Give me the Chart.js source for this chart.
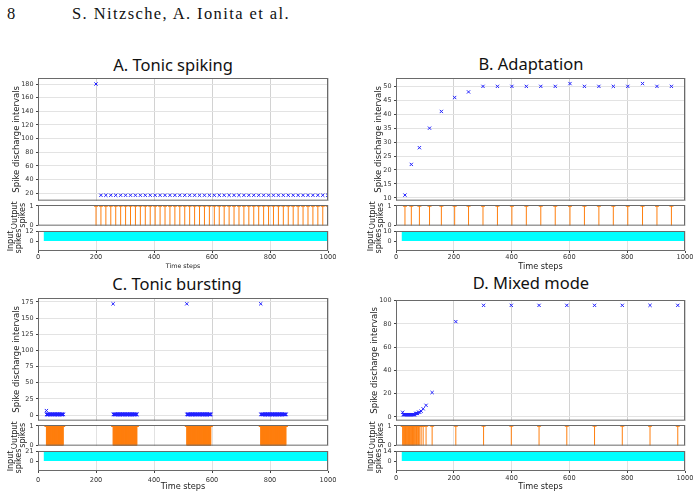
<!DOCTYPE html>
<html><head><meta charset="utf-8">
<script src="https://cdn.jsdelivr.net/npm/chart.js@4/dist/chart.umd.min.js"></script>
<style>
html,body{margin:0;padding:0;background:#fff;}
body{width:699px;height:498px;overflow:hidden;position:relative;}
.ttl{position:absolute;white-space:nowrap;transform:translate(-50%,-50%);font-family:'Noto Sans';font-size:16.5px;color:#111;line-height:1.2;}
.hdr{position:absolute;white-space:nowrap;font-family:'Liberation Serif';font-size:16.5px;line-height:1;color:#111;}
</style></head><body>
<div class="hdr" style="left:7px;top:6px;">8</div>
<div class="hdr" style="left:72px;top:6px;letter-spacing:1.4px;">S. Nitzsche, A. Ionita et al.</div>
<div class="ttl" style="left:173px;top:65px;">A. Tonic spiking</div>
<div class="ttl" style="left:531px;top:64px;">B. Adaptation</div>
<div class="ttl" style="left:177px;top:284px;">C. Tonic bursting</div>
<div class="ttl" style="left:531px;top:283px;">D. Mixed mode</div>
<script>
// ---------- data ----------
const timeTicks = [0, 200, 400, 600, 800, 1000];
const outTicks = [0, 1];
const inputTimes = [0, 19, 20, 1000];

// A. Tonic spiking
const prevSpikeA = 20;
const spikesA = [200,217,234,251,268,285,302,319,336,353,370,387,404,421,438,455,472,489,506,523,540,557,574,591,608,625,642,659,676,693,710,727,744,761,778,795,812,829,846,863,880,897,914,931,948,965,982,999];
const isiTicksA = [20,40,60,80,100,120,140,160,180];
const inputA = [0, 0, 12, 12];
const inTicksA = [0, 12];

// B. Adaptation
const prevSpikeB = 20;
const spikesB = [31,53,81,116,157,203,251,301,351,401,451,501,551,602,652,702,752,802,853,903,953];
const isiTicksB = [10,15,20,25,30,35,40,45,50];
const inputB = [0, 0, 10, 10];
const inTicksB = [0, 10];

// C. Tonic bursting  (bursts: [first spike, last spike], one spike per step inside a burst)
const prevSpikeC = 22;
const burstsC = [[29,87],[259,341],[513,596],[768,855]];
const burstStepC = 1;
const isiTicksC = [0,25,50,75,100,125,150,175];
const inputC = [0, 0, 21, 21];
const inTicksC = [0, 21];

// D. Mixed mode
const prevSpikeD = 19;
const spikesD = [23,25,27,29,31,33,35,37,39,41,43,45,47,49,51,53,55,57,59,61,63,65,68,71,74,78,82,87,94,104,125,207,303,399,495,591,687,783,879,975];
const isiTicksD = [0,20,40,60,80,100];
const inputD = [0, 0, 14, 14];
const inTicksD = [0, 14];

// ---------- helpers ----------
function burstSpikes(bursts, step){ const s=[]; bursts.forEach(([a,b])=>{ for(let t=a;t<=b;t+=step) s.push(t); }); return s; }
function isiOf(prev, spikes){ return spikes.map((t,i)=> t - (i ? spikes[i-1] : prev)); }
const spikesC = burstSpikes(burstsC, burstStepC);

const ORANGE='#ff7f0e', BLUE='#2020ff', CYAN='#00ffff';
Chart.defaults.font.family = "'DejaVu Sans', sans-serif";

const framePlugin = { id:'frame', afterDatasetsDraw(chart){
  const a=chart.chartArea, c=chart.ctx; c.save(); c.strokeStyle='#6a6a6a'; c.lineWidth=1;
  c.strokeRect(a.left+0.5, a.top+0.5, a.right-a.left-1, a.bottom-a.top-1); c.restore(); } };

function sub(o){
  const PT=8, PR=16, PB=o.xLabels?0:6;
  const lh = o.tSize*o.tLH;
  const cl = Math.round(o.titleX - lh/2);
  const YW = o.L - cl;
  const XH = o.xLabels ? Math.round(o.xTitleY - o.B + o.xTitleSize*1.2/2) : 0;
  const W = (o.R-o.L) + YW + PR;
  const H = PT + (o.B-o.T) + XH + PB;
  const cv=document.createElement('canvas');
  cv.width=W; cv.height=H;
  cv.style.cssText=`position:absolute;left:${cl}px;top:${o.T-PT}px;width:${W}px;height:${H}px;`;
  document.body.appendChild(cv);
  new Chart(cv,{type:o.type||'line',data:{datasets:o.datasets},plugins:[framePlugin],
    options:{responsive:false,animation:false,events:[],devicePixelRatio:1,
      layout:{padding:{top:PT,right:PR,bottom:PB,left:0}},
      plugins:{legend:{display:false},tooltip:{enabled:false}},
      scales:{
        x:{type:'linear',min:0,max:1000,
          afterBuildTicks:s=>{s.ticks=timeTicks.map(v=>({value:v}));},
          afterFit:s=>{s.height=XH;},
          grid:{color:o.xGrid,drawTicks:!!o.xLabels,tickLength:2,tickColor:'#444'},
          border:{display:false},
          ticks:{display:!!o.xLabels,padding:o.xPad||0,font:{size:6.6},color:'#333',maxRotation:0,autoSkip:false,callback:v=>String(v)},
          title:{display:!!o.xLabels,text:'Time steps',padding:0,font:{size:o.xTitleSize||8,lineHeight:1.2},color:'#222'}},
        y:{type:'linear',min:o.yMin,max:o.yMax,
          afterBuildTicks:s=>{s.ticks=o.yTicks.map(v=>({value:v}));},
          afterFit:s=>{s.width=YW;},
          grid:{color:'#e3e3e3',drawOnChartArea:!!o.yGridOn,tickLength:2,tickColor:'#444'},
          border:{display:false},
          ticks:{padding:2.5,font:{size:6.4},color:'#333',autoSkip:false,callback:v=>String(v)},
          title:{display:true,text:o.title,padding:0,font:{size:o.tSize,lineHeight:o.tLH},color:'#222'}}
      }}});
}
function isiSet(spikes, isi){ return [{data:spikes.map((t,i)=>({x:t,y:isi[i]})),showLine:false,pointStyle:'crossRot',pointRadius:2.3,
  pointBorderColor:BLUE,pointBackgroundColor:BLUE,pointBorderWidth:1,borderColor:BLUE}]; }
function stemSet(spikes){ const p=[]; spikes.forEach(t=>{p.push({x:t,y:0},{x:t,y:1},{x:t,y:null});});
  return [{data:p,showLine:true,spanGaps:false,borderColor:ORANGE,borderWidth:1,pointRadius:0,fill:false},
          {data:spikes.map(t=>({x:t,y:1})),showLine:false,pointStyle:'line',pointRadius:2,pointBorderColor:ORANGE,pointBorderWidth:1.3,borderColor:ORANGE}]; }
function inSet(vals){ return [{data:inputTimes.map((t,i)=>({x:t,y:vals[i]})),showLine:true,fill:'origin',backgroundColor:CYAN,
  borderColor:'rgba(0,0,0,0)',borderWidth:1,pointRadius:0}]; }

function panel(p){
  sub({type:'scatter',L:p.L,R:p.R,T:p.isiT,B:p.isiB,titleX:p.tx[0],title:'Spike discharge intervals',tSize:8.5,tLH:1.2,
       yMin:p.isiMin,yMax:p.isiMax,yTicks:p.isiTicks,yGridOn:true,xGrid:'#d2d2d2',datasets:isiSet(p.spikes,p.isi)});
  sub({L:p.L,R:p.R,T:p.isiB+4,B:p.isiB+25,titleX:p.tx[1],title:['Output','spikes'],tSize:8,tLH:1.0,
       yMin:0,yMax:1.05,yTicks:outTicks,xGrid:'#e2e2e2',datasets:stemSet(p.spikes)});
  sub({L:p.L,R:p.R,T:p.isiB+30,B:p.isiB+50,titleX:p.tx[2],title:['Input','spikes'],tSize:8,tLH:1.0,
       yMin:-p.inMax*1.05,yMax:p.inMax*1.05,yTicks:p.inTicks,xGrid:'#e2e2e2',datasets:inSet(p.input),
       xLabels:true,xPad:p.xPad,xTitleY:p.xTitleY,xTitleSize:p.xTitleSize});
}

panel({L:38,R:328,isiT:78,isiB:201,tx:[16.7,15,11.2],spikes:spikesA,isi:isiOf(prevSpikeA,spikesA),
  isiMin:9.1,isiMax:188.8,isiTicks:isiTicksA,input:inputA,inMax:12,inTicks:inTicksA,xPad:0,xTitleY:266,xTitleSize:6.3});
panel({L:396,R:685,isiT:78,isiB:201,tx:[378.7,372.5,371],spikes:spikesB,isi:isiOf(prevSpikeB,spikesB),
  isiMin:9,isiMax:53,isiTicks:isiTicksB,input:inputB,inMax:10,inTicks:inTicksB,xPad:0,xTitleY:267.3,xTitleSize:8.2});
panel({L:38,R:328,isiT:298,isiB:421,tx:[16.7,15,11.2],spikes:spikesC,isi:isiOf(prevSpikeC,spikesC),
  isiMin:-8.6,isiMax:181,isiTicks:isiTicksC,input:inputC,inMax:21,inTicks:inTicksC,xPad:3,xTitleY:487.3,xTitleSize:8.2});
panel({L:396,R:685,isiT:300,isiB:421,tx:[375.5,372.5,371.2],spikes:spikesD,isi:isiOf(prevSpikeD,spikesD),
  isiMin:-3.2,isiMax:100.6,isiTicks:isiTicksD,input:inputD,inMax:14,inTicks:inTicksD,xPad:1,xTitleY:486.7,xTitleSize:8.2});
</script>
</body></html>
